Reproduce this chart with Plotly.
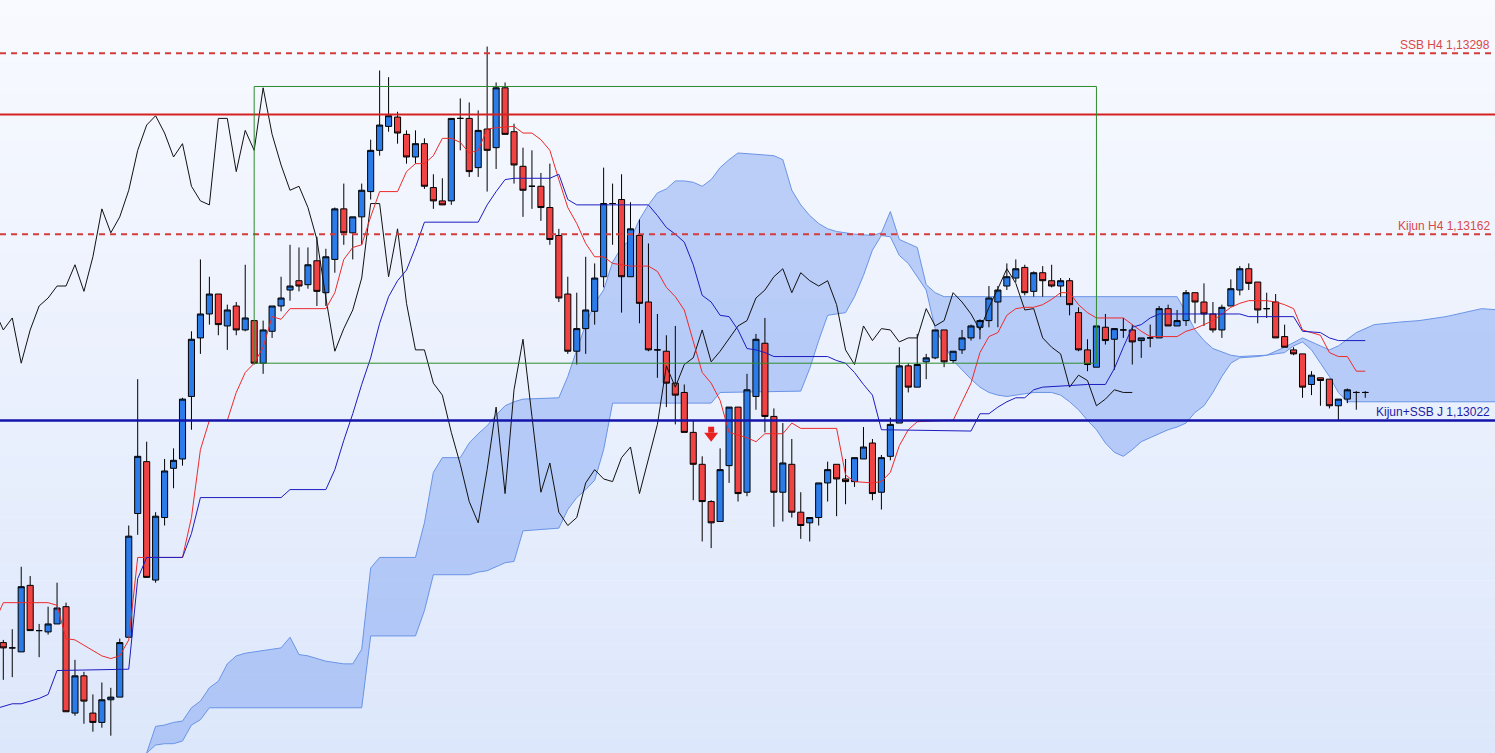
import plotly.graph_objects as go

# ---------------- data (prices) ----------------
bar_index = list(range(153))

candle_open = [1.12855,1.12851,1.12848,1.12898,1.12864,1.12863,1.12869,1.12882,1.12802,1.12830,
1.12802,1.12795,1.12812,1.12814,1.12859,1.12952,1.12991,1.12902,1.12949,1.12986,
1.12993,1.13040,1.13084,1.13102,1.13117,1.13093,1.13108,1.13090,1.13097,1.13065,
1.13089,1.13108,1.13120,1.13127,1.13124,1.13142,1.13118,1.13143,1.13181,1.13163,
1.13175,1.13194,1.13225,1.13243,1.13250,1.13237,1.13220,1.13230,1.13197,1.13187,
1.13187,1.13249,1.13249,1.13212,1.13241,1.13227,1.13272,1.13239,1.13213,1.13198,
1.13198,1.13182,1.13161,1.13117,1.13074,1.13091,1.13104,1.13130,1.13185,1.13188,
1.13130,1.13161,1.13111,1.13075,1.13074,1.13050,1.13043,1.13013,1.12989,1.12961,
1.12946,1.12988,1.13032,1.12968,1.13040,1.13080,1.13025,1.12968,1.12989,1.12953,
1.12945,1.12949,1.12975,1.12989,1.12978,1.12976,1.12993,1.13005,1.12968,1.12995,
1.13020,1.13063,1.13047,1.13066,1.13069,1.13090,1.13067,1.13075,1.13084,1.13092,
1.13097,1.13111,1.13123,1.13129,1.13137,1.13119,1.13133,1.13127,1.13123,1.13127,
1.13103,1.13075,1.13062,1.13092,1.13083,1.13090,1.13090,1.13082,1.13084,1.13084,
1.13106,1.13093,1.13097,1.13118,1.13111,1.13102,1.13090,1.13108,1.13120,1.13136,
1.13126,1.13106,1.13111,1.13085,1.13075,1.13072,1.13049,1.13054,1.13053,1.13033,
1.13038,1.13043,1.13043]

candle_high = [1.12857,1.12865,1.12912,1.12905,1.12869,1.12882,1.12900,1.12885,1.12842,1.12833,
1.12816,1.12825,1.12821,1.12858,1.12943,1.13053,1.13006,1.12953,1.12993,1.13001,
1.13039,1.13089,1.13143,1.13130,1.13117,1.13109,1.13111,1.13139,1.13097,1.13097,
1.13108,1.13130,1.13154,1.13152,1.13152,1.13160,1.13151,1.13182,1.13200,1.13175,
1.13200,1.13233,1.13285,1.13280,1.13254,1.13240,1.13240,1.13234,1.13207,1.13204,
1.13249,1.13264,1.13261,1.13255,1.13303,1.13276,1.13276,1.13245,1.13227,1.13225,
1.13208,1.13215,1.13166,1.13130,1.13118,1.13145,1.13140,1.13212,1.13200,1.13207,
1.13186,1.13173,1.13155,1.13102,1.13086,1.13093,1.13049,1.13022,1.12995,1.12962,
1.13001,1.13032,1.13032,1.13057,1.13087,1.13099,1.13031,1.13020,1.13008,1.12968,
1.12949,1.12975,1.12991,1.12989,1.12993,1.12994,1.13017,1.13008,1.12996,1.13024,
1.13077,1.13065,1.13087,1.13072,1.13090,1.13090,1.13074,1.13090,1.13094,1.13098,
1.13123,1.13123,1.13140,1.13143,1.13139,1.13134,1.13138,1.13139,1.13129,1.13129,
1.13107,1.13083,1.13093,1.13102,1.13091,1.13099,1.13094,1.13084,1.13094,1.13108,
1.13109,1.13105,1.13120,1.13118,1.13125,1.13111,1.13109,1.13128,1.13138,1.13140,
1.13126,1.13118,1.13117,1.13094,1.13077,1.13072,1.13059,1.13054,1.13053,1.13038,
1.13046,1.13044,1.13044]

candle_low = [1.12827,1.12829,1.12848,1.12864,1.12844,1.12861,1.12869,1.12803,1.12800,1.12794,
1.12788,1.12791,1.12785,1.12814,1.12859,1.12936,1.12904,1.12900,1.12943,1.12971,
1.12988,1.13015,1.13072,1.13094,1.13086,1.13075,1.13086,1.13089,1.13064,1.13057,
1.13084,1.13104,1.13112,1.13119,1.13121,1.13108,1.13108,1.13133,1.13154,1.13143,
1.13154,1.13188,1.13221,1.13239,1.13230,1.13215,1.13215,1.13196,1.13181,1.13184,
1.13184,1.13225,1.13205,1.13205,1.13194,1.13211,1.13237,1.13200,1.13175,1.13181,
1.13172,1.13154,1.13111,1.13072,1.13064,1.13072,1.13094,1.13122,1.13154,1.13103,
1.13130,1.13095,1.13074,1.13054,1.13032,1.13019,1.13013,1.12962,1.12931,1.12926,
1.12946,1.12975,1.12961,1.12965,1.13030,1.13013,1.12942,1.12946,1.12949,1.12933,
1.12931,1.12943,1.12961,1.12950,1.12959,1.12972,1.12993,1.12962,1.12955,1.12992,
1.13020,1.13043,1.13047,1.13053,1.13068,1.13062,1.13065,1.13072,1.13082,1.13083,
1.13092,1.13092,1.13120,1.13126,1.13116,1.13115,1.13115,1.13122,1.13115,1.13101,
1.13074,1.13059,1.13062,1.13079,1.13060,1.13084,1.13064,1.13069,1.13077,1.13084,
1.13093,1.13093,1.13093,1.13095,1.13093,1.13088,1.13084,1.13108,1.13116,1.13120,
1.13095,1.13099,1.13084,1.13077,1.13071,1.13039,1.13041,1.13033,1.13031,1.13022,
1.13035,1.13030,1.13039]

candle_close = [1.12851,1.12851,1.12897,1.12864,1.12864,1.12869,1.12881,1.12803,1.12830,1.12811,
1.12795,1.12812,1.12814,1.12855,1.12935,1.12995,1.12904,1.12950,1.12984,1.12992,
1.13038,1.13083,1.13102,1.13117,1.13094,1.13105,1.13090,1.13099,1.13065,1.13090,
1.13108,1.13114,1.13123,1.13123,1.13139,1.13119,1.13145,1.13181,1.13163,1.13175,
1.13195,1.13225,1.13244,1.13251,1.13238,1.13220,1.13230,1.13198,1.13187,1.13184,
1.13249,1.13249,1.13209,1.13240,1.13225,1.13272,1.13237,1.13214,1.13195,1.13198,
1.13182,1.13158,1.13114,1.13074,1.13091,1.13105,1.13129,1.13185,1.13185,1.13130,
1.13166,1.13110,1.13075,1.13075,1.13050,1.13041,1.13013,1.12989,1.12961,1.12945,
1.12985,1.13032,1.12967,1.13045,1.13083,1.13025,1.12968,1.12990,1.12953,1.12943,
1.12949,1.12975,1.12985,1.12978,1.12976,1.12994,1.13002,1.12967,1.12994,1.13019,
1.13063,1.13047,1.13064,1.13069,1.13090,1.13066,1.13074,1.13084,1.13093,1.13097,
1.13114,1.13120,1.13130,1.13136,1.13118,1.13133,1.13127,1.13123,1.13127,1.13109,
1.13075,1.13064,1.13093,1.13082,1.13091,1.13090,1.13081,1.13084,1.13084,1.13106,
1.13093,1.13097,1.13118,1.13111,1.13102,1.13090,1.13107,1.13121,1.13136,1.13125,
1.13105,1.13106,1.13084,1.13077,1.13072,1.13047,1.13056,1.13052,1.13033,1.13038,
1.13045,1.13043,1.13043]

# Tenkan-sen (red) vertices
tenkan_idx = [-1,0,5,6,7,8,9,10,11,12,13,14,15,20,21,22,23,25,26,27,28,29,30,31,32,36,37,38,39,40,
41,42,44,45,46,47,48,49,50,51,52,53,54,55,57,58,59,60,61,62,63,64,65,66,67,68,69,70,72,73,
74,75,76,77,78,79,80,81,83,84,85,87,88,89,93,94,95,97,98,99,100,101,102,105,106,107,108,109,110,111,
112,113,114,115,116,117,118,119,120,121,122,125,126,127,128,131,132,133,134,135,136,137,138,139,141,142,
143,144,145,146,147,148,149,150,151,152]
tenkan_val = [1.12870,1.12885,1.12885,1.12883,1.12858,1.12857,1.12853,1.12849,1.12845,1.12843,1.12845,1.12857,1.12919,1.12919,1.12949,1.13000,1.13022,1.13022,1.13043,1.13058,1.13065,1.13077,1.13100,1.13098,1.13106,1.13106,1.13118,1.13143,1.13152,1.13154,
1.13175,1.13194,1.13194,1.13209,1.13215,1.13215,1.13221,1.13234,1.13234,1.13231,1.13223,1.13225,1.13241,1.13242,1.13243,1.13238,1.13238,1.13233,1.13225,1.13203,1.13182,1.13170,1.13155,1.13145,1.13145,1.13140,1.13139,1.13138,1.13138,1.13134,
1.13122,1.13115,1.13105,1.13082,1.13058,1.13050,1.13037,1.13013,1.13009,1.13006,1.13012,1.13012,1.13020,1.13016,1.13016,1.12981,1.12976,1.12975,1.12976,1.12983,1.13003,1.13015,1.13021,1.13022,1.13022,1.13036,1.13050,1.13073,1.13085,1.13088,
1.13101,1.13106,1.13107,1.13107,1.13109,1.13113,1.13118,1.13118,1.13109,1.13103,1.13099,1.13099,1.13094,1.13089,1.13085,1.13085,1.13089,1.13091,1.13094,1.13097,1.13102,1.13107,1.13110,1.13112,1.13112,1.13111,
1.13109,1.13106,1.13090,1.13088,1.13086,1.13073,1.13070,1.13070,1.13059,1.13059]

# Kijun-sen (blue) vertices
kijun_idx = [-1,0,1,2,3,4,5,6,14,15,16,20,21,22,31,32,36,37,38,39,40,41,42,43,44,45,46,47,53,54,
55,56,57,61,62,63,64,72,73,74,75,76,77,78,79,80,81,82,83,84,85,86,87,92,93,94,95,96,97,98,
108,109,110,111,112,113,114,115,116,118,120,121,123,124,125,126,127,128,129,138,139,144,145,147,148,149,152]
kijun_val = [1.12805,1.12807,1.12809,1.12809,1.12811,1.12813,1.12816,1.12834,1.12835,1.12903,1.12919,1.12919,1.12937,1.12964,1.12964,1.12970,1.12970,1.12985,1.13007,1.13027,1.13049,1.13069,1.13095,1.13115,1.13127,1.13135,1.13152,1.13171,1.13171,1.13184,
1.13194,1.13203,1.13204,1.13204,1.13207,1.13188,1.13184,1.13184,1.13176,1.13167,1.13162,1.13156,1.13139,1.13116,1.13111,1.13101,1.13100,1.13090,1.13076,1.13075,1.13073,1.13070,1.13070,1.13070,1.13067,1.13065,1.13058,1.13049,1.13041,1.13015,
1.13014,1.13027,1.13027,1.13032,1.13036,1.13039,1.13039,1.13045,1.13047,1.13048,1.13049,1.13049,1.13049,1.13061,1.13077,1.13092,1.13094,1.13099,1.13102,1.13102,1.13100,1.13100,1.13089,1.13088,1.13084,1.13082,1.13082]

# Kumo (cloud) outline: upper and lower boundaries
cloud_top_idx = [15,16,17,18,19,20,21,22,23,24,25,26,27,28,30,31,32,33,34,36,38,39,40,41,42,46,47,48,49,51,
52,53,54,55,56,57,58,62,63,64,65,66,67,68,69,70,71,72,73,74,75,76,77,78,79,80,81,82,86,87,
88,89,90,91,92,93,95,97,98,99,100,101,102,103,104,105,131,132,133,134,135,137,138,141,143,145,147,148,149,151,
153,156,158,161,163,165,167]
cloud_top_val = [1.12759,1.12772,1.12792,1.12793,1.12795,1.12796,1.12806,1.12811,1.12821,1.12826,1.12839,1.12845,1.12847,1.12848,1.12850,1.12851,1.12859,1.12846,1.12845,1.12841,1.12839,1.12839,1.12850,1.12911,1.12919,1.12919,1.12945,1.12983,1.12994,1.12994,
1.13005,1.13012,1.13018,1.13026,1.13033,1.13036,1.13038,1.13039,1.13055,1.13075,1.13094,1.13110,1.13120,1.13141,1.13152,1.13158,1.13173,1.13184,1.13193,1.13196,1.13202,1.13202,1.13201,1.13198,1.13203,1.13212,1.13218,1.13223,1.13221,1.13218,
1.13195,1.13184,1.13176,1.13170,1.13166,1.13164,1.13162,1.13161,1.13163,1.13179,1.13158,1.13155,1.13152,1.13124,1.13118,1.13115,1.13115,1.13103,1.13090,1.13082,1.13076,1.13071,1.13070,1.13071,1.13077,1.13084,1.13078,1.13075,1.13078,1.13088,
1.13094,1.13096,1.13097,1.13100,1.13103,1.13106,1.13105]

cloud_bot_idx = [15,16,17,18,19,20,21,22,23,40,41,46,47,48,52,53,54,55,56,57,58,62,63,64,65,66,67,68,79,80,
89,90,91,92,94,95,96,97,98,99,100,101,102,103,104,105,106,107,108,109,110,111,112,114,115,117,118,119,120,121,
122,123,124,125,126,127,128,129,130,131,132,133,134,135,136,137,138,140,142,143,144,145,146,147,148,149,150,167]
cloud_bot_val = [1.12755,1.12772,1.12778,1.12779,1.12779,1.12781,1.12793,1.12797,1.12806,1.12806,1.12860,1.12860,1.12879,1.12906,1.12906,1.12908,1.12909,1.12912,1.12915,1.12916,1.12939,1.12941,1.12955,1.12964,1.12970,1.12977,1.13000,1.13035,1.13035,1.13043,
1.13044,1.13061,1.13082,1.13101,1.13103,1.13115,1.13131,1.13150,1.13161,1.13160,1.13146,1.13140,1.13130,1.13120,1.13091,1.13079,1.13067,1.13060,1.13053,1.13047,1.13043,1.13041,1.13040,1.13042,1.13043,1.13043,1.13041,1.13036,1.13030,1.13022,
1.13015,1.13005,1.12998,1.12995,1.13000,1.13006,1.13009,1.13012,1.13015,1.13017,1.13020,1.13028,1.13033,1.13043,1.13055,1.13065,1.13069,1.13070,1.13072,1.13073,1.13078,1.13081,1.13075,1.13065,1.13055,1.13043,1.13036,1.13036]

# Chikou span = closing prices shifted 26 bars back
chikou_shift = 26

# Horizontal levels and labels
level_ssb_h4 = 1.13298
level_red = 1.13252
level_kijun_h4 = 1.13162
level_kijun_ssb_j = 1.13022
label_ssb_h4 = "SSB H4 1,13298"
label_kijun_h4 = "Kijun H4 1,13162"
label_kijun_ssb_j = "Kijun+SSB J 1,13022"

# Green box (bar index range and price range)
box_idx = [28, 122]
box_price = [1.13065, 1.13273]

# Red signal arrow (stem, head)
arrow_idx = 79
arrow_price = [1.13015, 1.130105]

# ---------------- figure ----------------
fig = go.Figure()

shapes = []
# gradient background
n_strips = 48
top_rgb = (248, 250, 255)
bot_rgb = (221, 231, 251)
for k in range(n_strips):
    t = (k + 0.5) / n_strips
    r = round(top_rgb[0] + (bot_rgb[0] - top_rgb[0]) * t)
    g = round(top_rgb[1] + (bot_rgb[1] - top_rgb[1]) * t)
    b = round(top_rgb[2] + (bot_rgb[2] - top_rgb[2]) * t)
    shapes.append(dict(type="rect", xref="paper", yref="paper", x0=0, x1=1,
                       y0=1 - (k + 1) / n_strips, y1=1 - k / n_strips,
                       fillcolor=f"rgb({r},{g},{b})", line=dict(width=0), layer="below"))

# cloud polygon (in data coordinates, drawn beneath the candles)
cloud_pts = list(zip(cloud_top_idx, cloud_top_val)) + list(zip(cloud_bot_idx, cloud_bot_val))[::-1]
cloud_path = "M " + " L ".join(f"{x},{y}" for x, y in cloud_pts) + " Z"
shapes.append(dict(type="path", xref="x", yref="y", path=cloud_path,
                   fillcolor="rgba(105,148,240,0.40)", line=dict(color="#6a94e6", width=1),
                   layer="below"))

# candles
fig.add_trace(go.Candlestick(
    x=bar_index, open=candle_open, high=candle_high, low=candle_low, close=candle_close,
    increasing=dict(fillcolor="#2b7ce9", line=dict(color="#000000", width=1)),
    decreasing=dict(fillcolor="#f04444", line=dict(color="#000000", width=1)),
    hoverinfo="skip"))

# chikou
chikou_x = [i - chikou_shift for i in range(25, len(candle_close))]
chikou_y = candle_close[25:]
fig.add_trace(go.Scatter(x=chikou_x, y=chikou_y, mode="lines",
                         line=dict(color="#111111", width=1), hoverinfo="skip"))
# tenkan / kijun
fig.add_trace(go.Scatter(x=tenkan_idx, y=tenkan_val, mode="lines",
                         line=dict(color="#ee2a2a", width=1), hoverinfo="skip"))
fig.add_trace(go.Scatter(x=kijun_idx, y=kijun_val, mode="lines",
                         line=dict(color="#1c1cc0", width=1), hoverinfo="skip"))

# arrow
fig.add_trace(go.Scatter(x=[arrow_idx], y=[arrow_price[0]], mode="markers",
                         marker=dict(symbol="square", size=6, color="#e8201e", line=dict(width=0)),
                         hoverinfo="skip"))
fig.add_trace(go.Scatter(x=[arrow_idx], y=[arrow_price[1]], mode="markers",
                         marker=dict(symbol="triangle-down", size=12, color="#e8201e", line=dict(width=0)),
                         hoverinfo="skip"))

shapes.append(dict(type="line", xref="paper", yref="y", x0=0, x1=1, y0=level_ssb_h4, y1=level_ssb_h4,
                   line=dict(color="#d43c3c", width=2, dash="6px,5px"), layer="above"))
shapes.append(dict(type="line", xref="paper", yref="y", x0=0, x1=1, y0=level_kijun_h4, y1=level_kijun_h4,
                   line=dict(color="#d43c3c", width=2, dash="6px,5px"), layer="above"))
shapes.append(dict(type="line", xref="paper", yref="y", x0=0, x1=1, y0=level_red, y1=level_red,
                   line=dict(color="#d42222", width=2), layer="above"))
shapes.append(dict(type="line", xref="paper", yref="y", x0=0, x1=1, y0=level_kijun_ssb_j, y1=level_kijun_ssb_j,
                   line=dict(color="#1414aa", width=2.5), layer="above"))
shapes.append(dict(type="rect", xref="x", yref="y", x0=box_idx[0], x1=box_idx[1],
                   y0=box_price[0], y1=box_price[1],
                   line=dict(color="#2e8b2e", width=1), fillcolor="rgba(0,0,0,0)", layer="above"))

annotations = [
    dict(text=label_ssb_h4, xref="paper", yref="y", x=1491 / 1495, y=level_ssb_h4,
         xanchor="right", yanchor="bottom", showarrow=False, borderpad=0,
         font=dict(family="Liberation Sans, Arial, sans-serif", size=12, color="#d84a4a")),
    dict(text=label_kijun_h4, xref="paper", yref="y", x=1491 / 1495, y=level_kijun_h4,
         xanchor="right", yanchor="bottom", showarrow=False, borderpad=0,
         font=dict(family="Liberation Sans, Arial, sans-serif", size=12, color="#d84a4a")),
    dict(text=label_kijun_ssb_j, xref="paper", yref="y", x=1491 / 1495, y=level_kijun_ssb_j,
         xanchor="right", yanchor="bottom", showarrow=False, borderpad=0,
         font=dict(family="Liberation Sans, Arial, sans-serif", size=12, color="#1c1ca8")),
]

fig.update_layout(
    width=1495, height=753,
    margin=dict(l=0, r=0, t=0, b=0),
    paper_bgcolor="#f0f4fd", plot_bgcolor="rgba(0,0,0,0)",
    showlegend=False,
    boxgap=0.32, boxgroupgap=0,
    shapes=shapes, annotations=annotations,
    xaxis=dict(range=[-0.368, 166.48], visible=False, rangeslider=dict(visible=False), fixedrange=True),
    yaxis=dict(range=[1.12772, 1.13338], visible=False, fixedrange=True),
    hovermode=False,
)

fig.write_html("out.html", config={"displayModeBar": False},
               post_script="document.body.style.margin='0';document.body.style.padding='0';"
                           "document.body.style.overflow='hidden';")
